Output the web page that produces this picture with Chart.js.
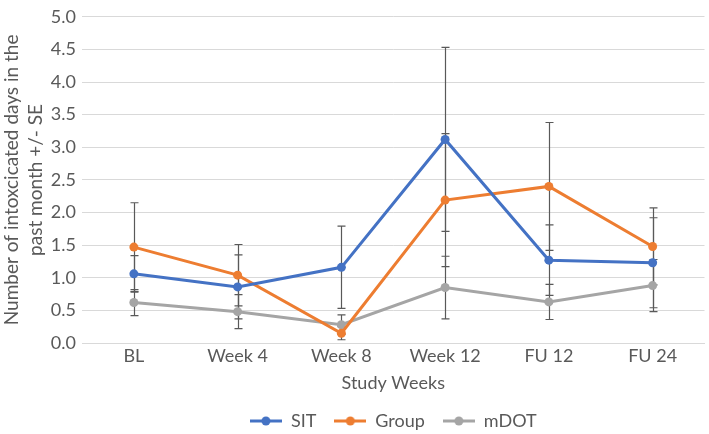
<!DOCTYPE html>
<html>
<head>
<meta charset="utf-8">
<script src="https://cdn.jsdelivr.net/npm/chart.js@4.4.1/dist/chart.umd.min.js"></script>
<style>
  html, body { margin: 0; padding: 0; background: #fff; }
  #wrap { width: 709px; height: 434px; }
</style>
</head>
<body>
<div id="wrap"><canvas id="myChart" width="709" height="434"></canvas></div>
<script>
const weeks = ["BL", "Week 4", "Week 8", "Week 12", "FU 12", "FU 24"];

const sit = [1.06, 0.86, 1.16, 3.12, 1.27, 1.23];
const group = [1.47, 1.04, 0.15, 2.19, 2.40, 1.48];
const mdot = [0.62, 0.48, 0.28, 0.85, 0.63, 0.88];

// standard errors (symmetric)
const sitSE = [0.28, 0.49, 0.63, 1.41, 0.54, 0.69];
const groupSE = [0.68, 0.47, 0.10, 1.02, 0.98, 0.59];
const mdotSE = [0.20, 0.26, 0.15, 0.48, 0.27, 0.40];

const yTicks = [0, 0.5, 1, 1.5, 2, 2.5, 3, 3.5, 4, 4.5, 5];

const FONT = "Lato";
const FS = 18;
const GREY = "#595959";

// little line+dot picture for the legend
function legendIcon(color) {
  const c = document.createElement("canvas");
  c.width = 32; c.height = 12;
  const g = c.getContext("2d");
  g.strokeStyle = color; g.lineWidth = 3;
  g.beginPath(); g.moveTo(0, 6); g.lineTo(32, 6); g.stroke();
  g.fillStyle = color;
  g.beginPath(); g.arc(16, 6, 4.5, 0, Math.PI * 2); g.fill();
  return c;
}

const errorBars = {
  id: "errorBars",
  beforeDatasetsDraw(chart) {
    const ctx = chart.ctx;
    const x = chart.scales.x, y = chart.scales.y;
    ctx.save();
    ctx.strokeStyle = GREY;
    ctx.lineWidth = 1.2;
    chart.data.datasets.forEach(ds => {
      ds.data.forEach((v, j) => {
        const e = ds.se[j];
        const px = Math.round(x.getPixelForValue(j)) + 0.5;
        const top = y.getPixelForValue(v + e);
        const bot = y.getPixelForValue(Math.max(0, v - e));
        ctx.beginPath();
        ctx.moveTo(px, top); ctx.lineTo(px, bot);
        ctx.moveTo(px - 4, top); ctx.lineTo(px + 4, top);
        ctx.moveTo(px - 4, bot); ctx.lineTo(px + 4, bot);
        ctx.stroke();
      });
    });
    ctx.restore();
  }
};

function series(label, data, se, color) {
  return {
    label: label,
    data: data,
    se: se,
    borderColor: color,
    backgroundColor: color,
    borderWidth: 3,
    pointRadius: 4.5,
    pointHoverRadius: 4.5,
    pointBorderWidth: 0,
    tension: 0,
    fill: false
  };
}

new Chart("myChart", {
  type: "line",
  data: {
    labels: weeks,
    datasets: [
      series("SIT", sit, sitSE, "#4472C4"),
      series("Group", group, groupSE, "#ED7D31"),
      series("mDOT", mdot, mdotSE, "#A5A5A5")
    ]
  },
  options: {
    responsive: false,
    animation: false,
    layout: { padding: { top: 11, right: 4, left: 0, bottom: -6 } },
    scales: {
      x: {
        offset: true,
        grid: { display: false, drawTicks: false },
        border: { color: "#d9d9d9", width: 1 },
        ticks: { color: GREY, font: { family: FONT, size: FS }, padding: 2 },
        title: {
          display: true, text: "Study Weeks", color: GREY,
          font: { family: FONT, size: FS }, padding: { top: 2, bottom: 0 }
        },
        afterFit(s) { s.height = 51; }
      },
      y: {
        min: 0, max: 5,
        afterBuildTicks(s) { s.ticks = yTicks.map(v => ({ value: v })); },
        grid: { color: "#d9d9d9", drawTicks: false },
        border: { display: false },
        ticks: {
          color: GREY, font: { family: FONT, size: FS }, padding: 6,
          callback: v => v.toFixed(1)
        },
        title: {
          display: true,
          text: ["Number of intoxcicated days in the", "past month +/- SE"],
          color: GREY, font: { family: FONT, size: 19, lineHeight: 1.25 },
          padding: { top: 0, bottom: 0 }
        },
        afterFit(s) { s.width = 82; }
      }
    },
    plugins: {
      legend: {
        position: "bottom",
        fullSize: false,
        labels: {
          color: GREY,
          font: { family: FONT, size: FS },
          usePointStyle: true,
          pointStyleWidth: 32,
          padding: 18,
          generateLabels(chart) {
            return chart.data.datasets.map((ds, i) => ({
              text: ds.label,
              fontColor: GREY,
              pointStyle: legendIcon(ds.borderColor),
              strokeStyle: ds.borderColor,
              fillStyle: ds.borderColor,
              lineWidth: 0,
              datasetIndex: i
            }));
          }
        }
      },
      tooltip: { enabled: false }
    }
  },
  plugins: [errorBars]
});
</script>
</body>
</html>
